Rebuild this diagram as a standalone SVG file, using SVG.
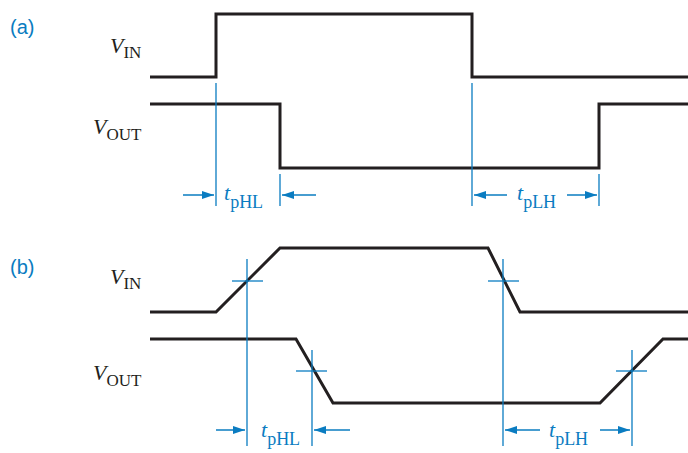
<svg xmlns="http://www.w3.org/2000/svg" width="688" height="453" viewBox="0 0 688 453">
<defs>
<style>
.sig{fill:none;stroke:#231f20;stroke-width:3;stroke-linejoin:miter}
.ref{fill:none;stroke:#0a7cc1;stroke-width:1.3}
.dim{fill:none;stroke:#0a7cc1;stroke-width:1.5;marker-end:url(#ah)}
.lbl{font-family:"Liberation Serif","Times New Roman",serif;fill:#231f20}
.tl{font-family:"Liberation Serif","Times New Roman",serif;fill:#0a7cc1}
.pl{font-family:"Liberation Sans",Arial,sans-serif;fill:#0a7cc1;font-size:20px}
</style>
<marker id="ah" viewBox="0 0 12 8" refX="12" refY="4" markerWidth="12" markerHeight="8" markerUnits="userSpaceOnUse" orient="auto">
<path d="M0,0 L12,4 L0,8 z" fill="#0a7cc1"/>
</marker>
</defs>
<rect width="688" height="453" fill="#ffffff"/>

<g id="panel-a-label"><text class="pl" x="10" y="34">(a)</text></g>
<g id="panel-b-label"><text class="pl" x="10" y="274">(b)</text></g>

<g id="a-vin-label"><text class="lbl" x="110" y="53" font-size="22"><tspan font-style="italic">V</tspan><tspan font-size="17" dy="5">IN</tspan></text></g>
<g id="a-vout-label"><text class="lbl" x="93" y="134" font-size="22"><tspan font-style="italic">V</tspan><tspan font-size="17" dy="6">OUT</tspan></text></g>
<g id="b-vin-label"><text class="lbl" x="110" y="284" font-size="22"><tspan font-style="italic">V</tspan><tspan font-size="17" dy="5">IN</tspan></text></g>
<g id="b-vout-label"><text class="lbl" x="93" y="380" font-size="22"><tspan font-style="italic">V</tspan><tspan font-size="17" dy="6">OUT</tspan></text></g>

<g id="a-vin"><polyline class="sig" points="150,77 216,77 216,14 472,14 472,77 688,77"/></g>
<g id="a-vout"><polyline class="sig" points="150,104 280,104 280,168 599,168 599,104 688,104"/></g>
<g id="b-vin"><polyline class="sig" points="150,312 216,312 280,248 488,248 520,312 688,312"/></g>
<g id="b-vout"><polyline class="sig" points="150,339 296,339 333,403 600,403 663,339 688,339"/></g>

<g id="connectors">
<line class="ref" x1="216" y1="83" x2="216" y2="206"/>
<line class="ref" x1="280" y1="174" x2="280" y2="206"/>
<line class="ref" x1="472" y1="83" x2="472" y2="206"/>
<line class="ref" x1="599" y1="174" x2="599" y2="206"/>
<line class="dim" x1="183" y1="195" x2="214" y2="195"/>
<line class="dim" x1="316" y1="195" x2="282" y2="195"/>
<line class="dim" x1="507" y1="195" x2="474" y2="195"/>
<line class="dim" x1="567" y1="195" x2="597" y2="195"/>

<line class="ref" x1="247" y1="259" x2="247" y2="446"/>
<line class="ref" x1="232" y1="281" x2="263" y2="281"/>
<line class="ref" x1="312" y1="350" x2="312" y2="446"/>
<line class="ref" x1="296" y1="371" x2="327" y2="371"/>
<line class="ref" x1="503" y1="259" x2="503" y2="446"/>
<line class="ref" x1="488" y1="281" x2="519" y2="281"/>
<line class="ref" x1="632" y1="350" x2="632" y2="446"/>
<line class="ref" x1="616" y1="371" x2="647" y2="371"/>
<line class="dim" x1="216" y1="430" x2="245" y2="430"/>
<line class="dim" x1="350" y1="430" x2="314" y2="430"/>
<line class="dim" x1="540" y1="430" x2="505" y2="430"/>
<line class="dim" x1="600" y1="430" x2="630" y2="430"/>
</g>

<g id="a-tphl"><text class="tl" x="224" y="200" font-size="22"><tspan font-style="italic">t</tspan><tspan font-size="18" dy="8">pHL</tspan></text></g>
<g id="a-tplh"><text class="tl" x="517" y="200" font-size="22"><tspan font-style="italic">t</tspan><tspan font-size="18" dy="8">pLH</tspan></text></g>
<g id="b-tphl"><text class="tl" x="261" y="437" font-size="22"><tspan font-style="italic">t</tspan><tspan font-size="18" dy="8">pHL</tspan></text></g>
<g id="b-tplh"><text class="tl" x="549" y="437" font-size="22"><tspan font-style="italic">t</tspan><tspan font-size="18" dy="8">pLH</tspan></text></g>
</svg>
